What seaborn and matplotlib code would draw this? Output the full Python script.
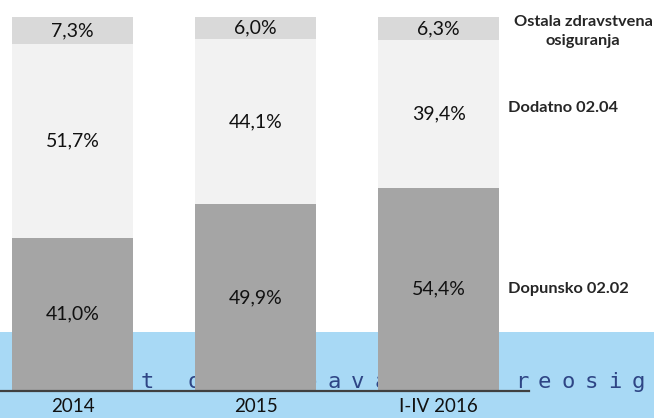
import matplotlib
matplotlib.use("Agg")
import matplotlib.pyplot as plt
from matplotlib.patches import Rectangle
import seaborn as sns

years = ["2014", "2015", "I-IV 2016"]
dopunsko = [41.0, 49.9, 54.4]
dodatno = [51.7, 44.1, 39.4]
ostala = [7.3, 6.0, 6.3]
series_names = ["Dopunsko 02.02", "Dodatno 02.04", "Ostala zdravstvena\nosiguranja"]
colors = ["#A5A5A5", "#F2F2F2", "#D9D9D9"]

sns.set_style("white")
plt.rcParams["font.family"] = ["Lato", "DejaVu Sans"]

fig = plt.figure(figsize=(6.54, 4.18), dpi=100)
ax = fig.add_axes([0, 27 / 418, 529 / 654, 374 / 418])
ax.patch.set_alpha(0)

# slide background band behind the chart
fig.add_artist(Rectangle((0, 0), 1, 86 / 418, transform=fig.transFigure,
                         facecolor="#A8D9F5", edgecolor="none", zorder=-2))
band = "t" + " " * 3 + "o" + " " * 5 + "g" + " " * 3 + "e a v a" + " " * 11 + "r e o s i g"
for i, ch in enumerate(band):
    if ch != " ":
        fig.text((147 + i * 11.7) / 654, 30 / 418, ch, family="DejaVu Sans Mono",
                 fontsize=16, color="#2E4585", va="baseline", ha="center", zorder=-1)

bottom = [0, 0, 0]
for vals, col in zip([dopunsko, dodatno, ostala], colors):
    sns.barplot(x=years, y=vals, bottom=bottom, color=col, saturation=1,
                width=0.66, linewidth=0, edgecolor="none", ax=ax)
    bottom = [b + v for b, v in zip(bottom, vals)]

for cont, vals in zip(ax.containers, [dopunsko, dodatno, ostala]):
    ax.bar_label(cont, labels=[f"{v:.1f}%".replace(".", ",") for v in vals],
                 label_type="center", fontsize=14, color="#111111")

ax.set_xlim(-0.396, 2.494)
ax.set_ylim(0, 100)
ax.set_yticks([])
ax.set_xlabel("")
ax.set_ylabel("")
ax.tick_params(axis="x", length=0, pad=5, labelsize=13.5, labelcolor="#111111")
for s in ["top", "left", "right"]:
    ax.spines[s].set_visible(False)
ax.spines["bottom"].set_color("#404040")
ax.spines["bottom"].set_linewidth(1.6)

# series names beside the last bar
ax.text(2.38, dopunsko[-1] / 2, series_names[0], fontsize=11.8, fontweight="bold",
        ha="left", va="center", clip_on=False)
ax.text(2.38, dopunsko[-1] + dodatno[-1] / 2 + 1.5, series_names[1], fontsize=11.8,
        fontweight="bold", ha="left", va="center", clip_on=False)
ax.text(2.79, 96.0, series_names[2], fontsize=11.8, fontweight="bold",
        ha="center", va="center", linespacing=1.45, clip_on=False)

fig.savefig("out.png", dpi=100)
